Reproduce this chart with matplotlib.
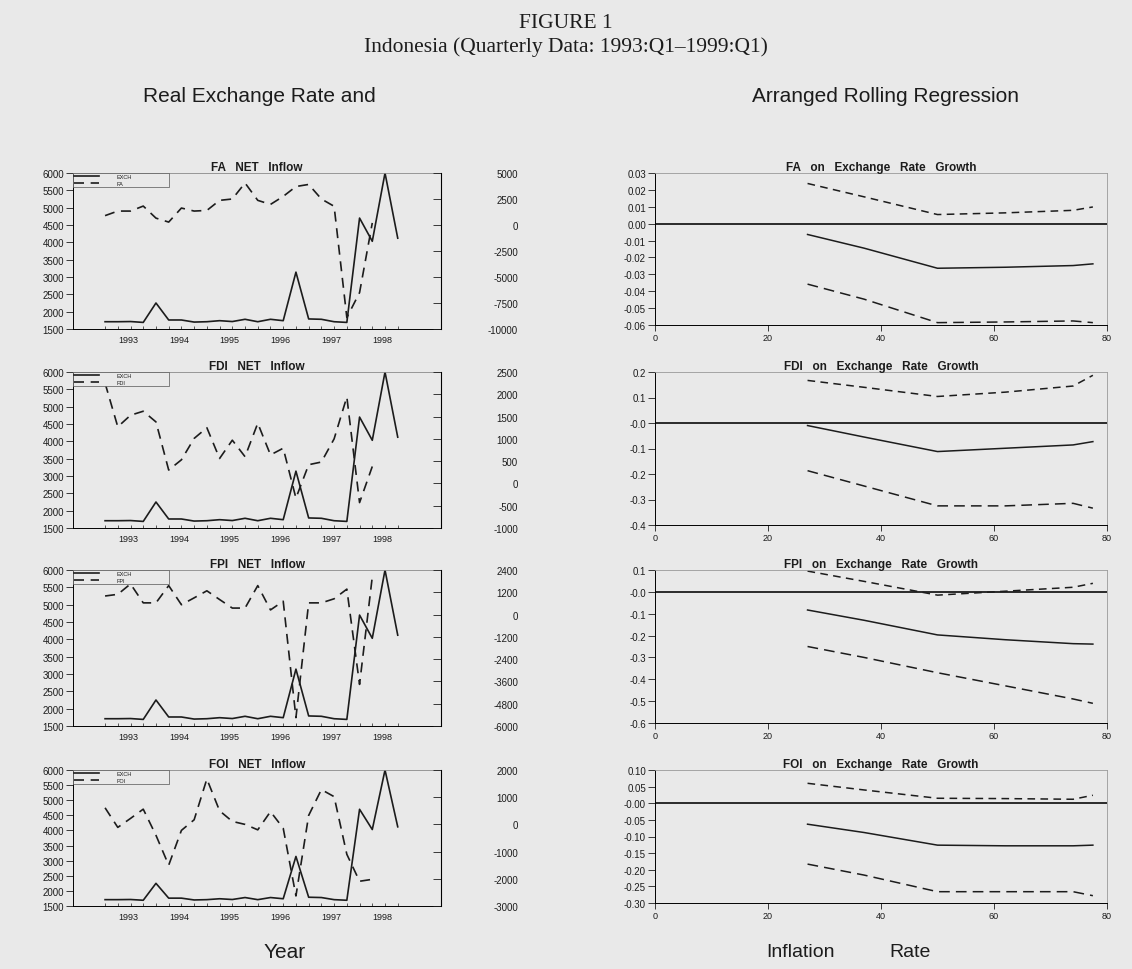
import numpy as np
import pandas as pd
import matplotlib
matplotlib.use("Agg")
import matplotlib.pyplot as plt

# ==========================================
# DATA
# ==========================================
quarters = pd.period_range("1993Q1", "1998Q4", freq="Q")
t_q = np.asarray(quarters.year + (quarters.quarter - 1) / 4.0)

years = [1993, 1994, 1995, 1996, 1997, 1998]

# real exchange rate (left axis, all four panels)
exch = [1710, 1710, 1715, 1690, 2250, 1760, 1760, 1700, 1710, 1740, 1715, 1780,
        1710, 1780, 1740, 3140, 1790, 1780, 1710, 1690, 4700, 4030, 6000, 4120]

# net inflows (right axis), 1993Q1-1998Q2
fa = [900, 1340, 1340, 1820, 660, 280, 1630, 1340, 1400, 2370, 2500, 4040,
      2370, 1980, 2750, 3700, 3900, 2500, 1800, -8900, -6500, 200]
fdi = [2250, 1270, 1530, 1620, 1380, 300, 530, 1010, 1250, 560, 970, 600,
       1350, 640, 790, -330, 420, 480, 1000, 1940, -430, 380]
fpi = [1000, 1090, 1650, 630, 630, 1560, 530, 900, 1280, 810, 350, 350,
       1560, 250, 720, -5550, 630, 630, 850, 1370, -3760, 2030]
foi = [610, -110, 220, 560, -400, -1500, -220, 170, 1670, 500, 110, 0,
       -200, 470, -140, -2630, 330, 1280, 1020, -1100, -2090, -2020]

exch_ticks = [6000, 5500, 5000, 4500, 4000, 3500, 3000, 2500, 2000, 1500]
fa_ticks = [5000, 2500, 0, -2500, -5000, -7500, -10000]
fdi_ticks = [2500, 2000, 1500, 1000, 500, 0, -500, -1000]
fpi_ticks = [2400, 1200, 0, -1200, -2400, -3600, -4800, -6000]
foi_ticks = [2000, 1000, 0, -1000, -2000, -3000]

# rolling regression: window end (inflation rate axis)
rr_x = [27, 37, 50, 62, 74, 77.5]

fa_up = [0.0238, 0.0159, 0.0054, 0.0064, 0.0079, 0.0099]
fa_cf = [-0.0064, -0.0145, -0.0264, -0.0258, -0.0248, -0.0238]
fa_lo = [-0.0358, -0.0447, -0.0586, -0.0582, -0.0576, -0.0586]

fdi_up = [0.167, 0.140, 0.104, 0.121, 0.145, 0.187]
fdi_cf = [-0.010, -0.055, -0.112, -0.099, -0.086, -0.073]
fdi_lo = [-0.187, -0.247, -0.325, -0.325, -0.315, -0.334]

fpi_up = [0.095, 0.048, -0.015, 0.003, 0.021, 0.039]
fpi_cf = [-0.083, -0.130, -0.197, -0.219, -0.237, -0.239]
fpi_lo = [-0.250, -0.300, -0.370, -0.430, -0.490, -0.510]

foi_up = [0.060, 0.040, 0.015, 0.014, 0.012, 0.024]
foi_cf = [-0.063, -0.088, -0.126, -0.128, -0.128, -0.126]
foi_lo = [-0.183, -0.216, -0.266, -0.266, -0.266, -0.278]

fa_rr_ticks = [0.03, 0.02, 0.01, 0.0, -0.01, -0.02, -0.03, -0.04, -0.05, -0.06]
fa_rr_labels = ["0.03", "0.02", "0.01", "0.00", "-0.01", "-0.02", "-0.03",
                "-0.04", "-0.05", "-0.06"]
fdi_rr_ticks = [0.2, 0.1, 0.0, -0.1, -0.2, -0.3, -0.4]
fdi_rr_labels = ["0.2", "0.1", "-0.0", "-0.1", "-0.2", "-0.3", "-0.4"]
fpi_rr_ticks = [0.1, 0.0, -0.1, -0.2, -0.3, -0.4, -0.5, -0.6]
fpi_rr_labels = ["0.1", "-0.0", "-0.1", "-0.2", "-0.3", "-0.4", "-0.5", "-0.6"]
foi_rr_ticks = [0.10, 0.05, 0.0, -0.05, -0.10, -0.15, -0.20, -0.25, -0.30]
foi_rr_labels = ["0.10", "0.05", "-0.00", "-0.05", "-0.10", "-0.15", "-0.20",
                 "-0.25", "-0.30"]

# ==========================================
# STYLE & LAYOUT (pixel boxes on a 1132x970 page)
# ==========================================
W, H = 1132, 970
BG = "#e9e9e9"
INK = "#1c1c1c"
SANS = "Liberation Sans"
SERIF = "Liberation Serif"

plt.rcParams["font.family"] = SANS
plt.rcParams["text.color"] = INK
plt.rcParams["xtick.color"] = INK
plt.rcParams["ytick.color"] = INK
plt.rcParams["axes.unicode_minus"] = False

ROWS_L = [(174, 330), (373, 529), (571, 727), (771, 907)]
ROWS_R = [(174, 326), (373, 526), (571, 724), (771, 904)]
LEFT_X = (73, 441)
RIGHT_X = (655, 1107)
RLABEL_EDGE = 518  # right edge of the flow-axis tick labels
TICK_FS = 7

fig = plt.figure(figsize=(W / 100, H / 100), dpi=100, facecolor=BG)


def px_axes(x0, y0, x1, y1):
    return fig.add_axes([x0 / W, 1 - y1 / H, (x1 - x0) / W, (y1 - y0) / H])


# ==========================================
# LEFT COLUMN: EXCH vs net inflows
# ==========================================
left_panels = [("FA", fa, fa_ticks), ("FDI", fdi, fdi_ticks),
               ("FPI", fpi, fpi_ticks), ("FOI", foi, foi_ticks)]

for i, (name, flow, rticks) in enumerate(left_panels):
    y0, y1 = ROWS_L[i]
    ax = px_axes(LEFT_X[0], y0, LEFT_X[1], y1)
    ax.set_facecolor(BG)
    l1, = ax.plot(t_q, exch, color=INK, lw=1.2)
    ax.set_xlim(1992.37, 1999.6)
    ax.set_ylim(1500, 6000)
    ax.set_yticks(exch_ticks)
    ax.tick_params(axis="y", labelsize=TICK_FS, length=5, width=0.6, pad=1.5)
    ax.set_xticks([y + 0.45 for y in years])
    ax.set_xticklabels([str(y) for y in years])
    ax.tick_params(axis="x", labelsize=TICK_FS - 0.5, length=0, pad=4)
    ax.set_xticks(t_q, minor=True)
    ax.tick_params(axis="x", which="minor", length=2, width=0.5, direction="in")
    for side in ["left", "bottom"]:
        ax.spines[side].set_linewidth(0.7)
    ax.spines["top"].set_color("#8a8a8a")
    ax.spines["top"].set_linewidth(0.6)
    ax.set_title(f"{name}   NET   Inflow", fontsize=8.5, fontweight="bold", pad=2)

    ax2 = ax.twinx()
    l2, = ax2.plot(t_q[:len(flow)], flow, color=INK, lw=1.2, ls=(0, (6, 4)))
    ax2.set_ylim(rticks[-1], rticks[0])
    ax2.set_yticks(rticks)
    pad_pt = (RLABEL_EDGE - LEFT_X[1]) * 72 / 100
    ax2.tick_params(axis="y", labelsize=TICK_FS, length=6, width=0.6,
                    direction="in", pad=pad_pt)
    for lbl in ax2.get_yticklabels():
        lbl.set_horizontalalignment("right")
    ax2.spines["right"].set_linewidth(0.7)
    for side in ["left", "top", "bottom"]:
        ax2.spines[side].set_visible(False)

    leg = ax2.legend([l1, l2], ["EXCH", name], loc="upper left",
                     bbox_to_anchor=(0, 1, 0.26, 0), mode="expand",
                     borderaxespad=0, fontsize=4, handlelength=4.5,
                     handletextpad=3, labelspacing=0.25, borderpad=0.25,
                     fancybox=False, framealpha=1, facecolor=BG,
                     edgecolor="#555555")
    leg.get_frame().set_linewidth(0.5)

# ==========================================
# RIGHT COLUMN: arranged rolling regression
# ==========================================
right_panels = [
    ("FA", fa_up, fa_cf, fa_lo, fa_rr_ticks, fa_rr_labels),
    ("FDI", fdi_up, fdi_cf, fdi_lo, fdi_rr_ticks, fdi_rr_labels),
    ("FPI", fpi_up, fpi_cf, fpi_lo, fpi_rr_ticks, fpi_rr_labels),
    ("FOI", foi_up, foi_cf, foi_lo, foi_rr_ticks, foi_rr_labels),
]

for i, (name, up, cf, lo, yt, ylab) in enumerate(right_panels):
    y0, y1 = ROWS_R[i]
    ax = px_axes(RIGHT_X[0], y0, RIGHT_X[1], y1)
    ax.set_facecolor(BG)
    ax.plot([0, 80], [0, 0], color=INK, lw=1.3)
    ax.plot(rr_x, up, color=INK, lw=1.1, ls=(0, (5, 3.5)))
    ax.plot(rr_x, cf, color=INK, lw=1.1)
    ax.plot(rr_x, lo, color=INK, lw=1.1, ls=(0, (7, 4)))
    ax.set_xlim(0, 80)
    ax.set_ylim(yt[-1], yt[0])
    ax.set_yticks(yt)
    ax.set_yticklabels(ylab)
    ax.set_xticks([0, 20, 40, 60, 80])
    ax.tick_params(axis="y", labelsize=TICK_FS, length=5, width=0.6, pad=1.5)
    ax.tick_params(axis="x", labelsize=TICK_FS - 0.5, length=4, width=0.6, pad=2)
    for side in ["left", "bottom"]:
        ax.spines[side].set_linewidth(0.7)
    for side in ["top", "right"]:
        ax.spines[side].set_color("#9a9a9a")
        ax.spines[side].set_linewidth(0.6)
    ax.set_title(f"{name}   on   Exchange   Rate   Growth", fontsize=8.5,
                 fontweight="bold", pad=2)

# ==========================================
# PAGE TEXT
# ==========================================
fig.text(0.5, 1 - 23 / H, "FIGURE 1", family=SERIF, fontsize=15.5,
         ha="center", va="center")
fig.text(0.5, 1 - 47 / H, "Indonesia (Quarterly Data: 1993:Q1\u20131999:Q1)",
         family=SERIF, fontsize=15.5, ha="center", va="center")
fig.text(259 / W, 1 - 97 / H, "Real Exchange Rate and", fontsize=15,
         ha="center", va="center")
fig.text(885 / W, 1 - 97 / H, "Arranged Rolling Regression", fontsize=15,
         ha="center", va="center")
fig.text(285 / W, 1 - 953 / H, "Year", fontsize=15, ha="center", va="center")
fig.text(800 / W, 1 - 953 / H, "Inflation", fontsize=14, ha="center", va="center")
fig.text(910 / W, 1 - 953 / H, "Rate", fontsize=14, ha="center", va="center")

fig.savefig("out.png", dpi=100, facecolor=BG)
